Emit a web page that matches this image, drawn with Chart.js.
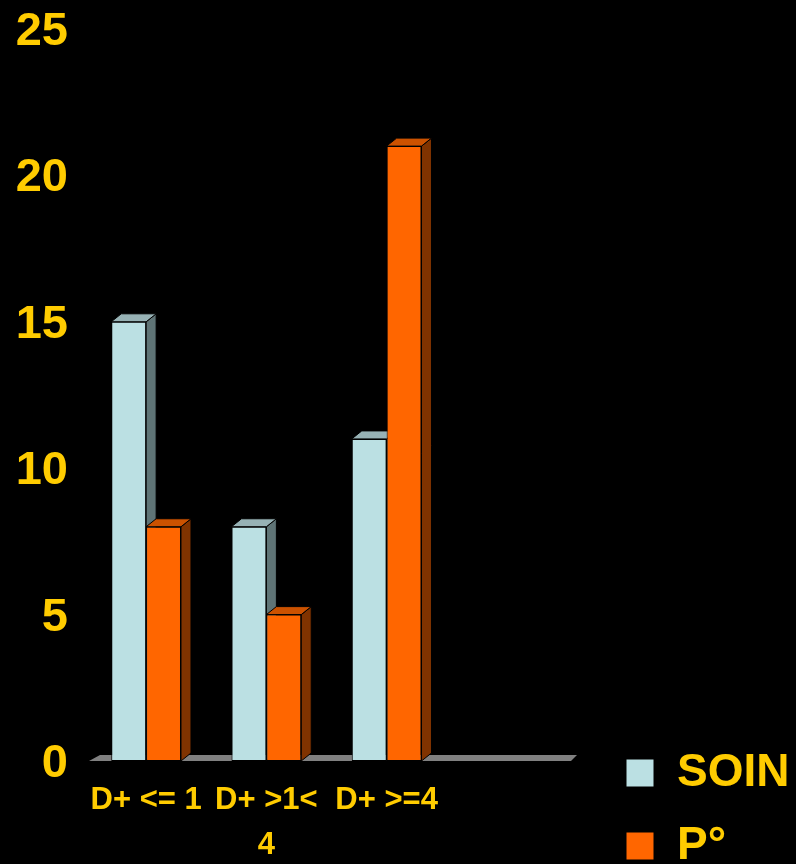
<!DOCTYPE html>
<html>
<head>
<meta charset="utf-8">
<style>
  html, body { margin: 0; padding: 0; background: #000; overflow: hidden; }
  #wrap { width: 796px; height: 864px; }
</style>
<script src="https://cdn.jsdelivr.net/npm/chart.js@4/dist/chart.umd.min.js"></script>
</head>
<body>
<div id="wrap"><canvas id="c" width="796" height="864"></canvas></div>
<script>
// ---- data ----
const categories = ['D+ <= 1', ['D+ >1<', '4'], 'D+ >=4', ''];
const seriesNames = ['SOIN', 'P°'];
const soinValues = [15, 8, 11, null];
const pValues = [8, 5, 21, null];
const yTickValues = [0, 5, 10, 15, 20, 25];

// ---- style ----
const GOLD = '#FFCC00';
const faceColors = [
  { front: '#BBE0E3', side: '#5F7476', top: '#97B2B5' },
  { front: '#FF6600', side: '#803300', top: '#CC5200' }
];
const DX = 10, DY = 8;
const LEGEND_FONT = 46, LEGEND_PAD = 27;

const threeD = {
  id: 'threeD',
  beforeDatasetsDraw(chart) {
    const ctx = chart.ctx;
    const { left, right } = chart.chartArea;
    const y0 = chart.scales.y.getPixelForValue(0);
    ctx.save();
    // floor
    ctx.fillStyle = '#808080';
    ctx.beginPath();
    ctx.moveTo(left + 3, y0);
    ctx.lineTo(left + 14, y0 - 6);
    ctx.lineTo(right + 10, y0 - 6);
    ctx.lineTo(right + 4, y0);
    ctx.closePath();
    ctx.fill();
    ctx.lineWidth = 1;
    ctx.strokeStyle = '#000';
    chart.data.datasets.forEach((ds, di) => {
      const meta = chart.getDatasetMeta(di);
      const col = faceColors[di];
      meta.data.forEach((bar, i) => {
        if (ds.data[i] == null) return;
        const p = bar.getProps(['x', 'y', 'base', 'width'], true);
        const l = p.x - p.width / 2, r = p.x + p.width / 2;
        // side face
        ctx.fillStyle = col.side;
        ctx.beginPath();
        ctx.moveTo(r, p.y);
        ctx.lineTo(r + DX, p.y - DY);
        ctx.lineTo(r + DX, p.base - DY);
        ctx.lineTo(r, p.base);
        ctx.closePath();
        ctx.fill();
        ctx.stroke();
        // top face
        ctx.fillStyle = col.top;
        ctx.beginPath();
        ctx.moveTo(l, p.y);
        ctx.lineTo(l + DX, p.y - DY);
        ctx.lineTo(r + DX, p.y - DY);
        ctx.lineTo(r, p.y);
        ctx.closePath();
        ctx.fill();
        ctx.stroke();
      });
    });
    ctx.restore();
  }
};

const legendMover = {
  id: 'legendMover',
  afterLayout(chart) {
    const lg = chart.legend;
    if (!lg) return;
    const pad = lg.options.labels.padding;
    const w = lg.width;
    lg.left = 626 - pad;
    lg.right = lg.left + w;
    const targetBottom = 773 - LEGEND_FONT / 2 + 2 * (LEGEND_FONT + LEGEND_PAD);
    const shift = targetBottom - lg.bottom;
    lg.top += shift;
    lg.bottom += shift;
  }
};

new Chart(document.getElementById('c'), {
  type: 'bar',
  data: {
    labels: categories,
    datasets: [
      { label: seriesNames[0], data: soinValues, backgroundColor: faceColors[0].front,
        borderColor: '#000', borderWidth: 1, borderSkipped: false,
        categoryPercentage: 0.58, barPercentage: 1 },
      { label: seriesNames[1], data: pValues, backgroundColor: faceColors[1].front,
        borderColor: '#000', borderWidth: 1, borderSkipped: false,
        categoryPercentage: 0.58, barPercentage: 1 }
    ]
  },
  options: {
    responsive: false,
    animation: false,
    devicePixelRatio: 1,
    layout: { padding: { top: 29, left: 0, right: 40, bottom: 0 } },
    plugins: {
      legend: {
        position: 'right',
        align: 'end',
        labels: {
          color: GOLD,
          font: { family: 'Liberation Sans, Arial, sans-serif', size: LEGEND_FONT, weight: 'bold' },
          boxWidth: 28,
          boxHeight: 28,
          padding: LEGEND_PAD
        }
      },
      tooltip: { enabled: false }
    },
    scales: {
      x: {
        grid: { display: false, drawTicks: false },
        border: { display: false },
        ticks: {
          color: GOLD,
          font: { family: 'Liberation Sans, Arial, sans-serif', size: 31, weight: 'bold', lineHeight: 1.45 },
          padding: 17,
          maxRotation: 0,
          autoSkip: false
        },
        afterFit(scale) { scale.height = 103; }
      },
      y: {
        min: 0,
        max: 25,
        grid: { display: false, drawTicks: false },
        border: { display: false },
        ticks: {
          color: GOLD,
          font: { family: 'Liberation Sans, Arial, sans-serif', size: 47, weight: 'bold' },
          padding: 18,
          labelOffset: 3
        },
        afterBuildTicks(scale) { scale.ticks = yTickValues.map(v => ({ value: v })); },
        afterFit(scale) { scale.width = 86; scale.paddingTop = 0; }
      }
    }
  },
  plugins: [threeD, legendMover]
});
</script>
</body>
</html>
